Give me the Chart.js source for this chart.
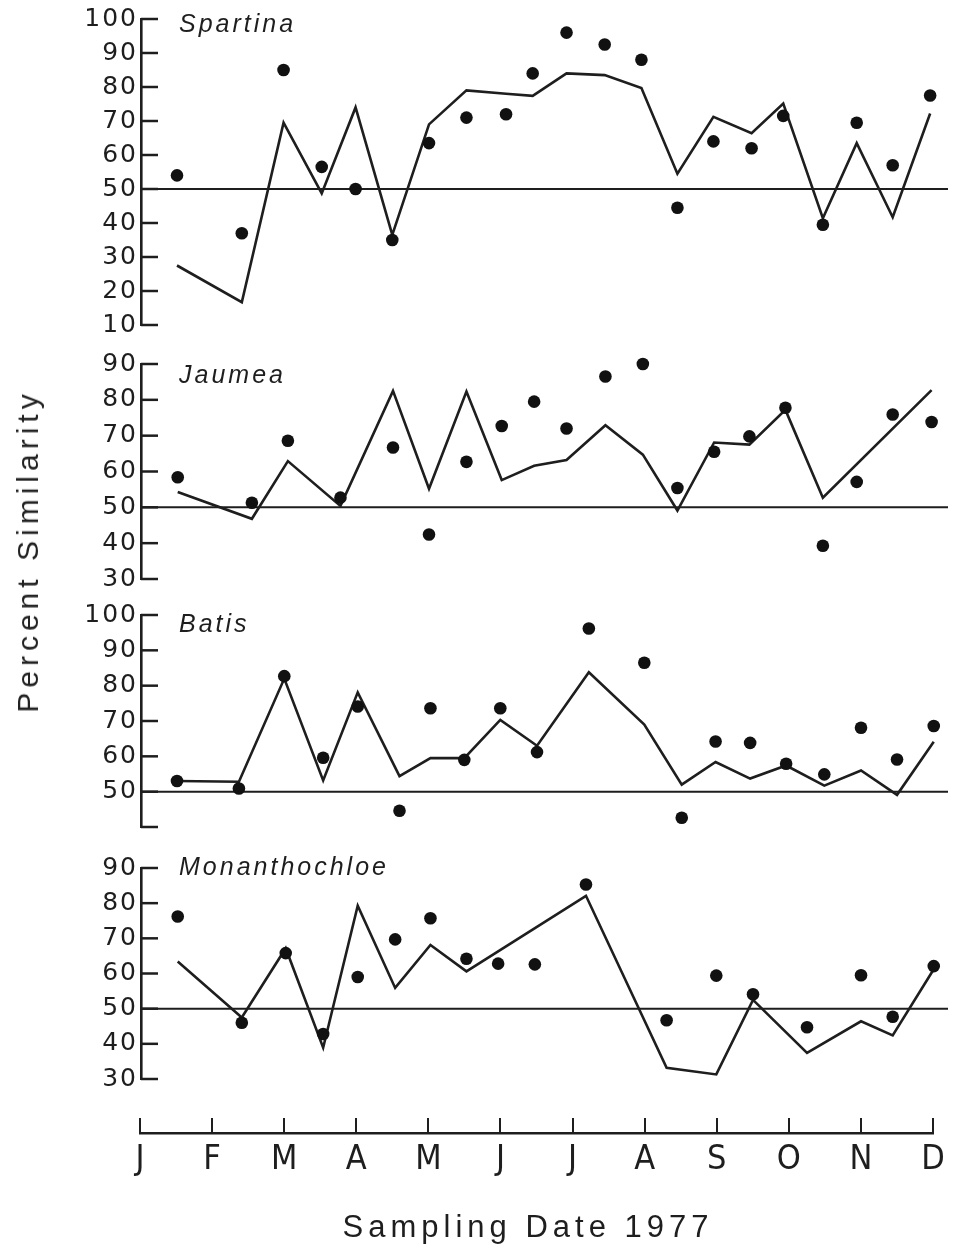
<!DOCTYPE html>
<html><head><meta charset="utf-8">
<script src="https://cdn.jsdelivr.net/npm/chart.js@4.4.1/dist/chart.umd.min.js"></script>
<style>
html,body{margin:0;padding:0;background:#fff;}
#wrap{position:relative;width:957px;height:1254px;overflow:hidden;background:#fff;}
#wrap canvas{position:absolute;left:0;display:block;}
#ytitle{position:absolute;left:28px;top:551px;transform:translate(-50%,-50%) rotate(-90deg);font:30px "Liberation Sans",Arial,sans-serif;letter-spacing:5px;color:#222;white-space:nowrap;}
</style></head><body>
<div id="wrap">
  <canvas id="c0" width="957" height="345" style="top:0px"></canvas>
  <canvas id="c1" width="957" height="255" style="top:344px"></canvas>
  <canvas id="c2" width="957" height="252" style="top:595px"></canvas>
  <canvas id="c3" width="957" height="251" style="top:848px"></canvas>
  <canvas id="cx" width="957" height="154" style="top:1100px"></canvas>
  <div id="ytitle">Percent Similarity</div>
</div>
<script>
// ---------------- data ----------------
const monthLabels = ['J','F','M','A','M','J','J','A','S','O','N','D'];
const xAxisTitle = 'Sampling Date 1977';
const referenceLevel = 50;

// sampling dates in months after 1 January
const spartinaDates = [0.50,1.40,1.98,2.51,2.98,3.49,4.00,4.52,5.07,5.44,5.91,6.44,6.95,7.45,7.95,8.48,8.92,9.47,9.94,10.44,10.96];
const spartinaDots  = [54,37,85,56.5,50,35,63.5,71,72,84,96,92.5,88,44.5,64,62,71.5,39.5,69.5,57,77.5];
const spartinaLine  = [27.5,16.7,69.5,48.7,74,36.5,69,79,78,77.4,84,83.5,79.7,54.5,71.2,66.4,75.1,41.4,63.5,41.7,72.2];

const jaumeaDates = [0.51,1.54,2.04,2.77,3.50,4.00,4.52,5.01,5.46,5.91,6.45,6.97,7.45,7.96,8.45,8.95,9.47,9.94,10.44,10.98];
const jaumeaDots  = [58.4,51.3,68.6,52.7,66.7,42.4,62.7,72.7,79.5,72,86.5,90,55.4,65.5,69.8,77.8,39.3,57.1,75.9,73.8];
const jaumeaLine  = [54.3,46.8,62.9,50.4,82.5,55.2,82.3,57.6,61.6,63.2,72.9,64.7,49.1,68.1,67.5,77.2,52.7,null,null,82.7];

const batisDates = [0.50,1.36,1.99,2.53,3.01,3.59,4.02,4.49,4.99,5.50,6.22,6.99,7.51,7.98,8.46,8.96,9.49,10.00,10.50,11.01];
const batisDots  = [53,50.9,82.7,59.6,74.1,44.6,73.6,59,73.6,61.2,96.2,86.5,42.6,64.2,63.8,57.9,54.9,68.1,59.1,68.6];
const batisLine  = [53,52.8,82,53.2,78.1,54.4,59.5,59.5,70.3,63,83.8,69,52,58.4,53.7,57.4,51.7,56,49.1,64.1];

const monanDates = [0.51,1.40,2.01,2.53,3.01,3.53,4.02,4.52,4.96,5.47,6.18,7.30,7.99,8.50,9.25,10.00,10.44,11.01];
const monanDots  = [76.2,46,65.8,42.8,59,69.7,75.7,64.2,62.8,62.6,85.3,46.7,59.4,54.1,44.7,59.5,47.7,62.1];
const monanLine  = [63.4,47.5,67.2,38.9,79.3,55.9,68.1,60.6,null,null,82.1,33.2,31.3,52.5,37.4,46.4,42.4,61.2];

// ---------------- styling ----------------
const INK = '#1e1e1e';
const SANS = '"Liberation Sans", Arial, Helvetica, sans-serif';
const WIDE = '"DejaVu Sans", "Liberation Sans", sans-serif';
const NARROW = '"Liberation Sans Narrow", "Arial Narrow", "DejaVu Sans Condensed", "Liberation Sans", sans-serif';

const spacingPlugin = {
  id: 'spacing',
  beforeDraw(chart, args, opts) { chart.ctx.letterSpacing = opts.value || '0px'; }
};
const refLinePlugin = {
  id: 'refLine',
  beforeDatasetsDraw(chart) {
    const {ctx, chartArea, scales} = chart;
    const y = scales.y.getPixelForValue(referenceLevel);
    ctx.save();
    ctx.strokeStyle = INK; ctx.lineWidth = 2;
    ctx.beginPath(); ctx.moveTo(chartArea.left, y); ctx.lineTo(chartArea.right, y); ctx.stroke();
    ctx.restore();
  }
};
const inwardTicksPlugin = {
  id: 'inwardTicks',
  afterDraw(chart) {
    const {ctx, chartArea, scales} = chart;
    const s = scales.y;
    ctx.save();
    ctx.strokeStyle = INK; ctx.lineWidth = 2.5;
    s.ticks.forEach(t => {
      const y = s.getPixelForValue(t.value);
      ctx.beginPath(); ctx.moveTo(chartArea.left, y); ctx.lineTo(chartArea.left + 17, y); ctx.stroke();
    });
    ctx.restore();
  }
};
const panelTitlePlugin = {
  id: 'panelTitle',
  afterDraw(chart, args, opts) {
    const {ctx, chartArea} = chart;
    ctx.save();
    ctx.font = 'italic 25px ' + SANS;
    ctx.letterSpacing = '3px';
    ctx.fillStyle = INK;
    ctx.textAlign = 'left';
    ctx.textBaseline = 'alphabetic';
    ctx.fillText(opts.text, chartArea.left + opts.dx, chartArea.top + opts.dy);
    ctx.restore();
  }
};

function panel(id, title, titleDy, dates, dots, line, yMin, yMax, padTop, unlabeled) {
  const pts = (vals) => dates.map((d, i) => ({x: d, y: vals[i]}));
  return new Chart(document.getElementById(id), {
    type: 'scatter',
    data: {
      datasets: [
        {type: 'line', data: pts(line), borderColor: INK, borderWidth: 2.6, pointRadius: 0,
         spanGaps: true, tension: 0, fill: false, clip: false, order: 2},
        {type: 'scatter', data: pts(dots), backgroundColor: '#111', borderWidth: 0,
         pointRadius: 6.3, clip: false, order: 1}
      ]
    },
    options: {
      responsive: false, animation: false, events: [],
      layout: {padding: {left: 81, right: 9, top: padTop, bottom: 20}},
      plugins: {
        legend: {display: false}, tooltip: {enabled: false},
        spacing: {value: '2px'},
        panelTitle: {text: title, dx: 38, dy: titleDy}
      },
      scales: {
        x: {type: 'linear', display: false, min: 0, max: 11.208},
        y: {type: 'linear', min: yMin, max: yMax,
            afterFit(s) { s.width = 60; },
            grid: {display: false, drawTicks: false},
            border: {display: true, color: INK, width: 2.6},
            ticks: {stepSize: 10, autoSkip: false, padding: 3, color: INK,
                    font: {family: WIDE, size: 25},
                    callback: (v) => unlabeled.includes(v) ? '' : String(v)}}
      }
    },
    plugins: [spacingPlugin, refLinePlugin, inwardTicksPlugin, panelTitlePlugin]
  });
}

panel('c0', 'Spartina', 13, spartinaDates, spartinaDots, spartinaLine, 10, 100, 19, []);
panel('c1', 'Jaumea', 19, jaumeaDates, jaumeaDots, jaumeaLine, 30, 90, 20, []);
panel('c2', 'Batis', 17, batisDates, batisDots, batisLine, 40, 100, 20, [40]);
panel('c3', 'Monanthochloe', 7, monanDates, monanDots, monanLine, 30, 90, 20, []);

// bottom month axis
const xTitlePlugin = {
  id: 'xTitle',
  afterDraw(chart) {
    const {ctx} = chart;
    ctx.save();
    ctx.font = '31px ' + SANS;
    ctx.letterSpacing = '5px';
    ctx.fillStyle = INK;
    ctx.textAlign = 'center';
    ctx.textBaseline = 'alphabetic';
    ctx.fillText(xAxisTitle, 528, 137);
    ctx.restore();
  }
};
new Chart(document.getElementById('cx'), {
  type: 'scatter',
  data: {datasets: []},
  options: {
    responsive: false, animation: false, events: [],
    layout: {padding: {left: 140, right: 24, top: 18, bottom: 0}},
    plugins: {legend: {display: false}, tooltip: {enabled: false}},
    scales: {
      x: {type: 'linear', min: 0, max: 11, position: 'bottom',
          afterFit(s) { s.height = 121; },
          grid: {display: true, drawOnChartArea: true, drawTicks: false, color: INK, lineWidth: 2},
          border: {display: true, color: INK, width: 2.6},
          ticks: {stepSize: 1, autoSkip: false, maxRotation: 0, minRotation: 0, padding: 7, color: INK,
                  font: {family: NARROW, size: 34},
                  callback: (v) => monthLabels[v] ?? ''}},
      y: {display: false, min: 0, max: 1}
    }
  },
  plugins: [xTitlePlugin]
});
</script>
</body></html>
